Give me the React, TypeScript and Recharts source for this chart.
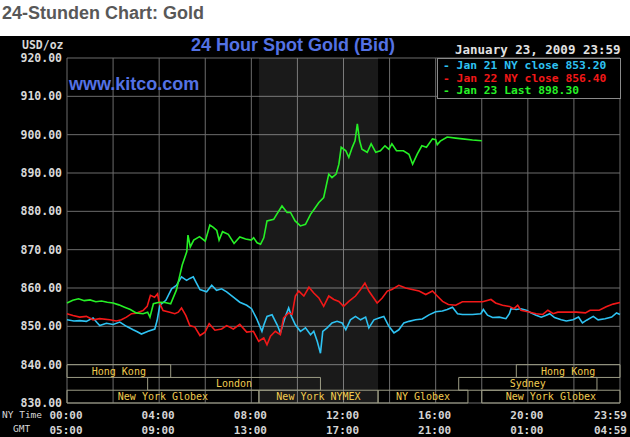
import React from "react";
import {
  ComposedChart,
  Line,
  XAxis,
  YAxis,
  CartesianGrid,
  ReferenceArea,
} from "recharts";

// [hour (NY time), USD/oz]
const jan21: [number, number][] = [
  [0, 851.7], [0.3, 851.4], [0.55, 851.5], [0.84, 851.3], [1.13, 852.2], [1.3, 851.0],
  [1.42, 850.2], [1.71, 850.8], [2.0, 850.5], [2.29, 851.1], [2.58, 850.0], [2.87, 849.1],
  [3.05, 848.6], [3.23, 848.0], [3.52, 848.7], [3.81, 849.3], [3.91, 851.5], [4.03, 855.5],
  [4.29, 856.8], [4.54, 859.8], [4.75, 860.7], [4.97, 862.9], [5.19, 862.0], [5.33, 862.5],
  [5.48, 862.9], [5.62, 861.3], [5.77, 859.6], [6.06, 859.0], [6.28, 860.7], [6.49, 859.4],
  [6.71, 859.8], [6.93, 859.0], [7.22, 857.6], [7.5, 856.3], [7.8, 855.5], [8.01, 854.6],
  [8.23, 852.0], [8.46, 848.7], [8.55, 850.5], [8.68, 852.6], [8.9, 853.0], [9.12, 850.4],
  [9.26, 848.3], [9.48, 852.6], [9.62, 854.8], [9.74, 852.6], [9.91, 850.4], [10.13, 848.7],
  [10.35, 849.6], [10.57, 847.8], [10.71, 848.7], [10.86, 846.1], [11.0, 843.0], [11.1, 848.7],
  [11.29, 849.6], [11.5, 850.9], [11.72, 851.3], [11.94, 850.9], [12.1, 849.1], [12.3, 851.7],
  [12.52, 852.6], [12.74, 851.7], [12.96, 852.4], [13.1, 849.6], [13.32, 851.7], [13.54, 852.2],
  [13.75, 852.6], [13.97, 850.0], [14.19, 848.3], [14.4, 849.1], [14.62, 850.9], [14.84, 851.3],
  [15.13, 851.7], [15.42, 851.9], [15.71, 853.0], [16.0, 853.8], [16.29, 854.0], [16.5, 854.4],
  [16.73, 855.0], [16.95, 853.3], [17.16, 853.1], [17.6, 853.1], [17.96, 853.3], [18.07, 854.4],
  [18.25, 852.9], [18.47, 852.3], [18.76, 852.4], [19.05, 852.0], [19.2, 853.3], [19.27, 854.6],
  [19.5, 854.4], [19.7, 854.6], [19.93, 854.2], [20.15, 853.5], [20.36, 852.9], [20.58, 852.4],
  [20.8, 852.9], [20.95, 853.3], [21.16, 852.3], [21.45, 851.7], [21.67, 851.4], [21.96, 851.7],
  [22.2, 852.4], [22.37, 850.9], [22.55, 851.6], [22.84, 852.6], [23.05, 851.7], [23.35, 852.0],
  [23.64, 852.4], [23.85, 853.5], [24, 853.1],
];

const jan22: [number, number][] = [
  [0, 853.3], [0.26, 852.8], [0.55, 852.4], [0.84, 852.6], [1.13, 851.7], [1.42, 852.0],
  [1.86, 851.7], [2.14, 851.4], [2.36, 851.7], [2.58, 852.4], [2.8, 853.3], [3.0, 853.4],
  [3.3, 854.1], [3.48, 855.2], [3.62, 858.1], [3.8, 857.6], [3.93, 858.5], [4.0, 856.3],
  [4.17, 854.1], [4.46, 853.7], [4.68, 853.3], [4.83, 853.7], [4.97, 854.8], [5.16, 852.8],
  [5.33, 850.2], [5.55, 849.8], [5.77, 847.6], [5.99, 848.5], [6.17, 850.7], [6.42, 849.0],
  [6.71, 849.3], [6.93, 850.2], [7.22, 849.3], [7.5, 850.5], [7.8, 848.5], [8.09, 848.7],
  [8.32, 846.1], [8.54, 847.0], [8.68, 845.2], [8.83, 847.4], [9.04, 848.7], [9.26, 847.8],
  [9.4, 852.2], [9.62, 853.5], [9.77, 853.1], [9.91, 857.9], [10.06, 859.2], [10.28, 857.9],
  [10.5, 860.2], [10.71, 858.7], [10.93, 857.4], [11.14, 855.2], [11.36, 857.9], [11.58, 857.0],
  [11.8, 856.5], [12.0, 855.2], [12.23, 856.5], [12.52, 857.9], [12.74, 859.6], [12.93, 861.3],
  [13.1, 859.2], [13.25, 857.9], [13.46, 856.1], [13.68, 857.4], [13.9, 859.2], [14.1, 859.6],
  [14.4, 860.7], [14.7, 860.0], [14.98, 859.6], [15.28, 859.2], [15.57, 858.3], [15.86, 859.2],
  [16.07, 857.9], [16.3, 856.5], [16.55, 855.7], [16.87, 855.5], [17.16, 856.4], [17.6, 856.4],
  [18.04, 856.4], [18.4, 857.0], [18.6, 856.1], [18.9, 855.5], [19.2, 855.2], [19.4, 854.6],
  [19.56, 855.5], [19.7, 854.2], [20.0, 853.8], [20.36, 853.3], [20.65, 853.1], [20.87, 854.2],
  [21.1, 853.3], [21.3, 853.7], [21.67, 853.7], [22.1, 853.7], [22.5, 853.5], [22.7, 854.2],
  [23.1, 854.2], [23.4, 855.1], [23.7, 855.8], [24, 856.2],
];

const jan23: [number, number][] = [
  [0, 856.1], [0.25, 856.8], [0.5, 857.2], [0.75, 856.7], [1.0, 856.9], [1.25, 856.4],
  [1.5, 856.6], [1.75, 856.3], [2.0, 856.1], [2.25, 855.6], [2.5, 855.0], [2.75, 854.4],
  [3.0, 853.5], [3.3, 853.3], [3.5, 853.7], [3.6, 852.4], [3.75, 855.9], [4.0, 856.3],
  [4.25, 856.2], [4.5, 855.9], [4.75, 859.5], [5.0, 866.0], [5.2, 869.5], [5.25, 873.8],
  [5.35, 870.7], [5.5, 872.5], [5.75, 873.4], [6.0, 872.2], [6.2, 876.4], [6.35, 875.8],
  [6.5, 875.0], [6.6, 872.5], [6.75, 874.7], [7.0, 874.0], [7.25, 871.6], [7.5, 873.3],
  [7.75, 872.8], [8.0, 872.5], [8.1, 873.1], [8.25, 871.8], [8.4, 871.4], [8.54, 873.1],
  [8.68, 877.5], [8.97, 877.9], [9.1, 879.2], [9.33, 881.4], [9.55, 879.7], [9.7, 879.7],
  [9.9, 877.5], [10.13, 876.2], [10.35, 876.6], [10.57, 879.2], [10.78, 881.0], [10.93, 882.3],
  [11.14, 883.6], [11.36, 889.7], [11.5, 888.8], [11.68, 889.7], [11.8, 892.3], [11.9, 896.7],
  [12.1, 895.8], [12.23, 894.1], [12.38, 896.7], [12.5, 898.4], [12.6, 902.8], [12.7, 898.4],
  [12.8, 896.2], [13.03, 895.4], [13.2, 897.6], [13.4, 895.4], [13.6, 895.8], [13.8, 897.1],
  [13.97, 896.2], [14.1, 897.6], [14.3, 895.8], [14.6, 895.8], [14.84, 894.9], [15.0, 892.3],
  [15.2, 894.9], [15.4, 897.1], [15.6, 896.7], [15.86, 898.9], [16.0, 898.7], [16.07, 897.4],
  [16.2, 898.3], [16.5, 899.4], [16.87, 899.1], [17.16, 898.9], [17.6, 898.6], [18.0, 898.4],
];

const priceTicks = [830, 840, 850, 860, 870, 880, 890, 900, 910, 920];
const hourTicks = [0, 2, 4, 6, 8, 10, 12, 14, 16, 18, 20, 22, 24];
const labelHours = [0, 4, 8, 12, 16, 20, 24];
const nyTimeLabels = ["00:00", "04:00", "08:00", "12:00", "16:00", "20:00", "23:59"];
const gmtLabels = ["05:00", "09:00", "13:00", "17:00", "21:00", "01:00", "04:59"];

const legendLabels = ["Jan 21 NY close 853.20", "Jan 22 NY close 856.40", "Jan 23 Last 898.30"];

// trading sessions, row 0 = top
const sessionNames = ["Hong Kong", "Hong Kong", "London", "Sydney", "New York Globex", "New York NYMEX", "NY Globex", "New York Globex"];
const sessionStart = [0, 19.5, 3.5, 17, 0, 8.33, 13.5, 18];
const sessionEnd = [4.5, 24, 11, 23, 8.33, 13.5, 17.4, 24];
const sessionRow = [0, 0, 1, 1, 2, 2, 2, 2];
const nymexHours = [8.33, 13.5];

const BLUE = "#2ec2f2";
const RED = "#f21818";
const GREEN = "#26f026";
const MONO = '"DejaVu Sans Mono", "Liberation Mono", monospace';
const SANS = '"Liberation Sans", Arial, sans-serif';

function TimeTick(props: any) {
  const { x, y, payload } = props;
  const i = labelHours.indexOf(payload.value);
  if (i < 0) return <g />;
  const last = payload.value === 24;
  const tx = last ? x + 7 : x - 1;
  const anchor = last ? "end" : "middle";
  const style = { fontFamily: MONO, fontSize: 11, fontWeight: 700 };
  return (
    <g>
      <text x={tx} y={y + 12} textAnchor={anchor} dominantBaseline="central" fill="#d4d4d4" style={style}>
        {nyTimeLabels[i]}
      </text>
      <text x={tx} y={y + 27} textAnchor={anchor} dominantBaseline="central" fill="#d4d4d4" style={style}>
        {gmtLabels[i]}
      </text>
    </g>
  );
}

export default function App() {
  const rowH = 10 / 3;
  return (
    <div style={{ position: "absolute", left: 0, top: 0, width: 630, height: 437, background: "#fff", overflow: "hidden" }}>
      <div style={{ position: "absolute", left: 2, top: 3, font: `bold 18px ${SANS}`, color: "#585858" }}>
        24-Stunden Chart: Gold
      </div>
      <div style={{ position: "absolute", left: 0, top: 36, width: 630, height: 401, background: "#000" }}>
        <ComposedChart width={630} height={401} margin={{ top: 22, right: 10, bottom: 0, left: 5 }}>
          <ReferenceArea x1={nymexHours[0]} x2={nymexHours[1]} y1={830} y2={920} fill="#ffffff" fillOpacity={0.1} stroke="none" />
          <CartesianGrid stroke="#6c6c6c" strokeWidth={1} horizontalValues={priceTicks} verticalValues={hourTicks} />
          <XAxis
            type="number"
            dataKey="h"
            domain={[0, 24]}
            ticks={hourTicks}
            interval={0}
            height={34}
            axisLine={false}
            tickLine={false}
            tickSize={0}
            tickMargin={0}
            tick={<TimeTick />}
          />
          <YAxis
            type="number"
            domain={[830, 920]}
            ticks={priceTicks}
            interval={0}
            width={62}
            axisLine={false}
            tickLine={false}
            tickSize={0}
            tickMargin={5}
            tickFormatter={(v: number) => v.toFixed(2)}
            tick={{ fill: "#d8d8d8", fontSize: 11.5, fontFamily: MONO, fontWeight: 700 }}
          />
          {sessionNames.map((name, i) => (
            <ReferenceArea
              key={i}
              x1={sessionStart[i]}
              x2={sessionEnd[i]}
              y1={840 - rowH * sessionRow[i]}
              y2={840 - rowH * (sessionRow[i] + 1)}
              fill="none"
              stroke="#9c9c84"
              strokeWidth={1}
              label={{ value: name, position: "center", fill: "#f2cc50", fontSize: 10, fontFamily: MONO }}
            />
          ))}
          <Line data={jan21.map(([h, p]) => ({ h, p }))} dataKey="p" type="linear" stroke={BLUE} strokeWidth={1.6} dot={false} activeDot={false} isAnimationActive={false} />
          <Line data={jan22.map(([h, p]) => ({ h, p }))} dataKey="p" type="linear" stroke={RED} strokeWidth={1.6} dot={false} activeDot={false} isAnimationActive={false} />
          <Line data={jan23.map(([h, p]) => ({ h, p }))} dataKey="p" type="linear" stroke={GREEN} strokeWidth={1.6} dot={false} activeDot={false} isAnimationActive={false} />
        </ComposedChart>

        <div style={{ position: "absolute", left: 22, top: 2, font: `bold 11.5px ${MONO}`, color: "#d8d8d8" }}>USD/oz</div>
        <div style={{ position: "absolute", left: 191, top: -1, font: `bold 18px ${SANS}`, color: "#5472e4" }}>
          24 Hour Spot Gold (Bid)
        </div>
        <div style={{ position: "absolute", left: 69, top: 38, font: `bold 18px ${SANS}`, color: "#5472e4" }}>www.kitco.com</div>
        <div style={{ position: "absolute", left: 455, top: 6, font: `bold 12.5px ${MONO}`, color: "#e2e2e2" }}>
          January 23, 2009 23:59
        </div>
        <div
          style={{
            position: "absolute", left: 437, top: 22, width: 182, height: 38, background: "#000",
            border: "1px solid #8a8a8a", font: `bold 11.3px ${MONO}`, lineHeight: "12.6px", paddingTop: 1,
          }}
        >
          {legendLabels.map((t, i) => (
            <div key={t} style={{ paddingLeft: 5, color: [BLUE, RED, GREEN][i], whiteSpace: "pre" }}>
              {"- " + t}
            </div>
          ))}
        </div>
        <div style={{ position: "absolute", left: 2, top: 374, font: `9.5px/1 ${MONO}`, color: "#d8d8d8" }}>NY Time</div>
        <div style={{ position: "absolute", left: 13, top: 388, font: `9.5px/1 ${MONO}`, color: "#d8d8d8" }}>GMT</div>
      </div>
    </div>
  );
}
